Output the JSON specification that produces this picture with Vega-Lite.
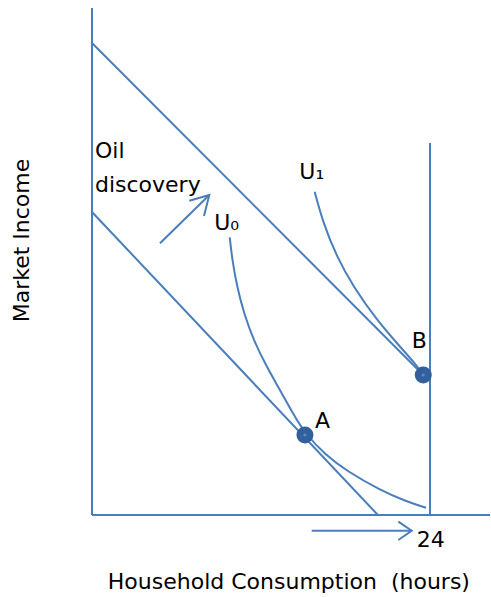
{
  "$schema": "https://vega.github.io/schema/vega-lite/v6.json",
  "width": 398,
  "height": 507,
  "autosize": {"type": "none"},
  "padding": {"left": 92, "top": 8, "right": 1, "bottom": 82},
  "background": "white",
  "config": {"view": {"stroke": null}},
  "datasets": {
    "segs": [
      {"g": "yaxis", "o": 0, "x": 0, "y": 0},
      {"g": "yaxis", "o": 1, "x": 0, "y": 50.7},
      {"g": "xaxis", "o": 0, "x": 0, "y": 0},
      {"g": "xaxis", "o": 1, "x": 28.26, "y": 0},
      {"g": "limit24", "o": 0, "x": 24, "y": 0},
      {"g": "limit24", "o": 1, "x": 24, "y": 37.2},
      {"g": "budget1", "o": 0, "x": 0, "y": 47.2},
      {"g": "budget1", "o": 1, "x": 23.52, "y": 14.0},
      {"g": "budget0", "o": 0, "x": 0, "y": 30.3},
      {"g": "budget0", "o": 1, "x": 20.3, "y": 0},
      {"g": "arrow1", "o": 0, "x": 4.83, "y": 27.17},
      {"g": "arrow1", "o": 1, "x": 8.33, "y": 32.0},
      {"g": "head1", "o": 0, "x": 6.91, "y": 31.43},
      {"g": "head1", "o": 1, "x": 8.33, "y": 32.0},
      {"g": "head1", "o": 2, "x": 7.95, "y": 29.9},
      {"g": "arrow2", "o": 0, "x": 15.6, "y": -1.57},
      {"g": "arrow2", "o": 1, "x": 22.7, "y": -1.57},
      {"g": "head2", "o": 0, "x": 21.75, "y": -0.67},
      {"g": "head2", "o": 1, "x": 22.7, "y": -1.57},
      {"g": "head2", "o": 2, "x": 21.75, "y": -2.5}
    ],
    "curves": [
      {"c": "U0", "x": 9.78, "y": 27.77},
      {"c": "U0", "x": 9.95, "y": 25.6},
      {"c": "U0", "x": 10.3, "y": 22.8},
      {"c": "U0", "x": 10.8, "y": 20.1},
      {"c": "U0", "x": 11.5, "y": 17.4},
      {"c": "U0", "x": 12.4, "y": 14.83},
      {"c": "U0", "x": 13.35, "y": 12.5},
      {"c": "U0", "x": 14.25, "y": 10.2},
      {"c": "U0", "x": 15.15, "y": 8.1},
      {"c": "U0", "x": 16.6, "y": 6.0},
      {"c": "U0", "x": 18.08, "y": 4.4},
      {"c": "U0", "x": 20.45, "y": 2.5},
      {"c": "U0", "x": 22.35, "y": 1.33},
      {"c": "U0", "x": 23.72, "y": 0.73},
      {"c": "U1", "x": 15.81, "y": 32.33},
      {"c": "U1", "x": 16.42, "y": 29.17},
      {"c": "U1", "x": 17.38, "y": 25.83},
      {"c": "U1", "x": 18.55, "y": 22.83},
      {"c": "U1", "x": 20.22, "y": 19.5},
      {"c": "U1", "x": 21.87, "y": 16.83},
      {"c": "U1", "x": 23.1, "y": 14.9},
      {"c": "U1", "x": 23.52, "y": 14.0}
    ],
    "points": [
      {"p": "A", "x": 15.12, "y": 8.0},
      {"p": "B", "x": 23.52, "y": 14.0}
    ],
    "labels": [
      {"t": "Oil", "x": 0.21, "y": 35.73},
      {"t": "discovery", "x": 0.21, "y": 32.35},
      {"t": "U₀", "x": 8.68, "y": 28.5},
      {"t": "U₁", "x": 14.72, "y": 33.57},
      {"t": "A", "x": 15.83, "y": 8.67},
      {"t": "B", "x": 22.7, "y": 16.67},
      {"t": "24", "x": 23.06, "y": -3.17}
    ],
    "xtitle": [
      {"t": "Household Consumption\u00a0\u00a0(hours)", "x": 13.98, "y": -7.43}
    ],
    "ytitle": [
      {"t": "Market Income", "x": -4.99, "y": 27.45}
    ]
  },
  "layer": [
    {
      "data": {"name": "segs"},
      "mark": {"type": "line", "color": "#4a7ebb", "strokeWidth": 2, "strokeCap": "butt"},
      "encoding": {
        "x": {"field": "x", "type": "quantitative", "scale": {"domain": [0, 28.26], "nice": false, "zero": false}, "axis": null},
        "y": {"field": "y", "type": "quantitative", "scale": {"domain": [0, 50.7], "nice": false, "zero": false}, "axis": null},
        "detail": {"field": "g"},
        "order": {"field": "o", "type": "quantitative"}
      }
    },
    {
      "data": {"name": "curves"},
      "mark": {"type": "line", "color": "#4a7ebb", "strokeWidth": 2, "interpolate": "basis"},
      "encoding": {
        "x": {"field": "x", "type": "quantitative"},
        "y": {"field": "y", "type": "quantitative"},
        "detail": {"field": "c"},
        "order": {"field": "x", "type": "quantitative"}
      }
    },
    {
      "data": {"name": "points"},
      "mark": {"type": "point", "shape": "circle", "filled": true, "size": 290, "color": "#33609a", "opacity": 1},
      "encoding": {
        "x": {"field": "x", "type": "quantitative"},
        "y": {"field": "y", "type": "quantitative"}
      }
    },
    {
      "data": {"name": "points"},
      "mark": {"type": "point", "shape": "circle", "filled": true, "size": 10, "color": "#5a8ac6", "opacity": 1},
      "encoding": {
        "x": {"field": "x", "type": "quantitative"},
        "y": {"field": "y", "type": "quantitative"}
      }
    },
    {
      "data": {"name": "labels"},
      "mark": {"type": "text", "align": "left", "baseline": "alphabetic", "font": "DejaVu Sans", "fontSize": 22, "color": "#000000"},
      "encoding": {
        "x": {"field": "x", "type": "quantitative"},
        "y": {"field": "y", "type": "quantitative"},
        "text": {"field": "t"}
      }
    },
    {
      "data": {"name": "xtitle"},
      "mark": {"type": "text", "align": "center", "baseline": "alphabetic", "font": "DejaVu Sans", "fontSize": 22, "color": "#000000"},
      "encoding": {
        "x": {"field": "x", "type": "quantitative"},
        "y": {"field": "y", "type": "quantitative"},
        "text": {"field": "t"}
      }
    },
    {
      "data": {"name": "ytitle"},
      "mark": {"type": "text", "align": "center", "baseline": "middle", "angle": 270, "font": "DejaVu Sans", "fontSize": 22, "color": "#000000"},
      "encoding": {
        "x": {"field": "x", "type": "quantitative"},
        "y": {"field": "y", "type": "quantitative"},
        "text": {"field": "t"}
      }
    }
  ]
}
